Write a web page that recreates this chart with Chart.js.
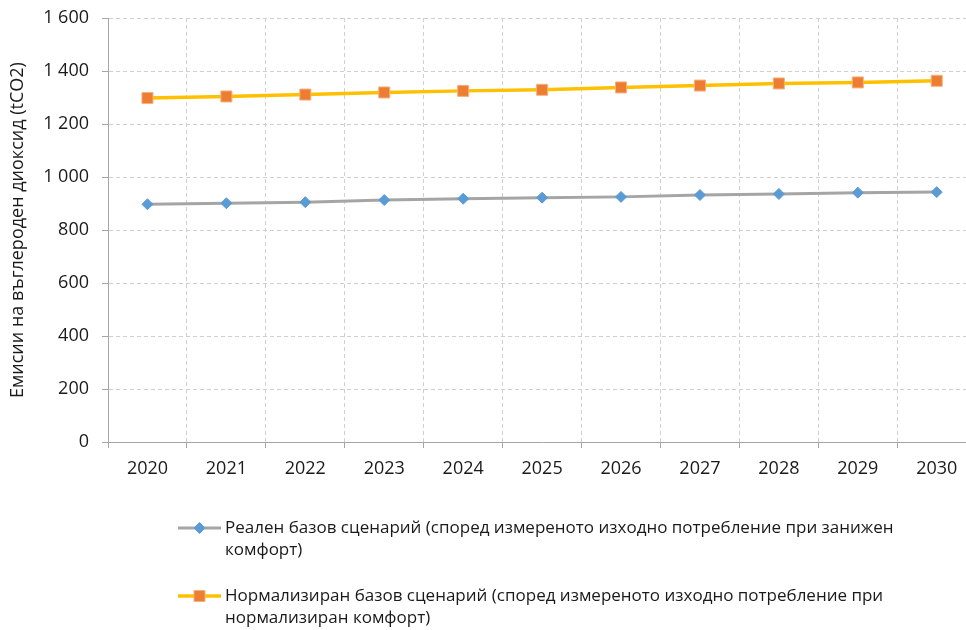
<!DOCTYPE html>
<html>
<head>
<meta charset="utf-8">
<script src="https://cdn.jsdelivr.net/npm/chart.js@4/dist/chart.umd.min.js"></script>
<style>
  html, body { margin: 0; padding: 0; background: #ffffff; overflow: hidden; }
  #wrap { width: 966px; height: 630px; overflow: hidden; position: relative; }
  canvas { display: block; }
</style>
</head>
<body>
<div id="wrap"><canvas id="c" width="985" height="630"></canvas></div>
<script>
// Years on the category axis
const years = ['2020', '2021', '2022', '2023', '2024', '2025', '2026', '2027', '2028', '2029', '2030'];

// CO2 emissions, tCO2
const realBaseline = [897, 901, 905, 913, 918, 922, 925, 932, 936, 941, 943];
const normalizedBaseline = [1298, 1304, 1311, 1319, 1325, 1329, 1338, 1345, 1353, 1357, 1363];

// Series names shown in the legend
const seriesNames = [
  'Реален базов сценарий (според измереното изходно потребление при занижен комфорт)',
  'Нормализиран базов сценарий (според измереното изходно потребление при нормализиран комфорт)'
];

// Value axis
const yAxisTitle = 'Емисии на въглероден диоксид (tCO2)';
const yMin = 0, yMax = 1600, yStep = 200;

const FONT = '"Open Sans", "Noto Sans", sans-serif';
const TEXT = '#1a1a1a';

function groupThousands(v) {
  return String(v).replace(/\B(?=(\d{3})+(?!\d))/g, ' ');
}

// Legend below the plot, with word-wrapped entries
const wrappedLegend = {
  id: 'wrappedLegend',
  afterDraw(chart, args, opts) {
    const ctx = chart.ctx;
    ctx.save();
    ctx.font = opts.fontSize + 'px ' + FONT;
    ctx.textBaseline = 'middle';
    ctx.textAlign = 'left';
    chart.data.datasets.forEach((ds, i) => {
      const y = opts.rows[i];
      // sample line
      ctx.strokeStyle = ds.borderColor;
      ctx.lineWidth = ds.borderWidth;
      ctx.setLineDash([]);
      ctx.beginPath();
      ctx.moveTo(opts.x0, y);
      ctx.lineTo(opts.x1, y);
      ctx.stroke();
      // marker
      ctx.fillStyle = ds.pointBackgroundColor;
      ctx.strokeStyle = ds.pointBorderColor;
      ctx.lineWidth = ds.pointBorderWidth;
      Chart.helpers.drawPoint(ctx, {
        pointStyle: ds.pointStyle,
        radius: ds.pointRadius,
        borderWidth: ds.pointBorderWidth
      }, (opts.x0 + opts.x1) / 2, y);
      // text, wrapped by words
      ctx.fillStyle = TEXT;
      const words = ds.label.split(' ');
      const lines = [];
      let cur = '';
      words.forEach(w => {
        const test = cur ? cur + ' ' + w : w;
        if (ctx.measureText(test).width > opts.maxWidth && cur) {
          lines.push(cur);
          cur = w;
        } else {
          cur = test;
        }
      });
      if (cur) lines.push(cur);
      lines.forEach((ln, k) => ctx.fillText(ln, opts.textX, y + k * opts.lineHeight));
    });
    ctx.restore();
  }
};

new Chart(document.getElementById('c'), {
  type: 'line',
  data: {
    labels: years,
    datasets: [
      {
        label: seriesNames[0],
        data: realBaseline,
        borderColor: '#a5a5a5',
        borderWidth: 3,
        pointStyle: 'rectRot',
        pointRadius: 5.5,
        pointHoverRadius: 5.5,
        pointBackgroundColor: '#5b9bd5',
        pointBorderColor: '#5b9bd5',
        pointBorderWidth: 1,
        tension: 0
      },
      {
        label: seriesNames[1],
        data: normalizedBaseline,
        borderColor: '#ffc000',
        borderWidth: 3.5,
        pointStyle: 'rect',
        pointRadius: 7.8,
        pointHoverRadius: 7.8,
        pointBackgroundColor: '#ed7d31',
        pointBorderColor: '#f4b183',
        pointBorderWidth: 1,
        tension: 0
      }
    ]
  },
  options: {
    responsive: false,
    devicePixelRatio: 1,
    animation: false,
    events: [],
    layout: { padding: { top: 18, right: 6, bottom: 138, left: 0 } },
    plugins: {
      legend: { display: false },
      tooltip: { enabled: false },
      wrappedLegend: {
        x0: 178, x1: 221, textX: 225,
        rows: [528, 596],
        lineHeight: 22,
        fontSize: 17,
        maxWidth: 700
      }
    },
    scales: {
      x: {
        offset: true,
        grid: {
          offset: true,
          color: '#d0d0d0',
          tickBorderDash: [],
          tickColor: '#a6a6a6',
          tickLength: 6,
          lineWidth: 1
        },
        border: { color: '#a6a6a6', width: 1, dash: [4, 3] },
        ticks: {
          color: TEXT,
          font: { family: FONT, size: 18 },
          padding: 10,
          maxRotation: 0,
          autoSkip: false
        },
        afterFit(scale) { scale.height = 50; }
      },
      y: {
        min: yMin,
        max: yMax,
        grid: {
          color: '#d0d0d0',
          tickBorderDash: [],
          tickColor: '#a6a6a6',
          tickLength: 6,
          lineWidth: 1
        },
        border: { color: '#a6a6a6', width: 1, dash: [4, 3] },
        ticks: {
          stepSize: yStep,
          color: TEXT,
          font: { family: FONT, size: 18 },
          padding: 13,
          callback: v => groupThousands(v)
        },
        title: {
          display: true,
          text: yAxisTitle,
          color: TEXT,
          font: { family: FONT, size: 18 },
          padding: { top: 7, bottom: 0 }
        },
        afterFit(scale) {
          scale.width = 108;
          scale.paddingTop = 0;
          scale.paddingBottom = 0;
        }
      }
    }
  },
  plugins: [wrappedLegend]
});
</script>
</body>
</html>
